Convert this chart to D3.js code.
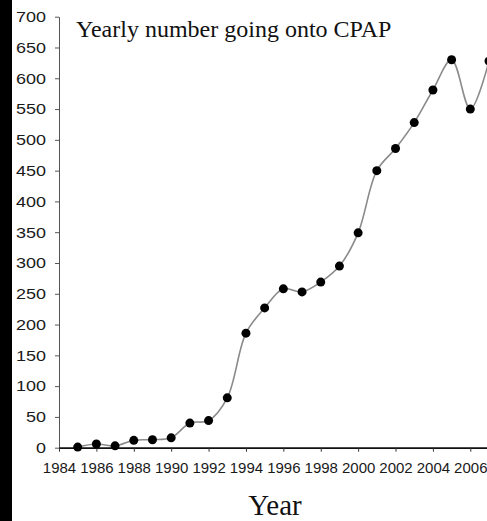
<!DOCTYPE html>
<html>
<head>
<meta charset="utf-8">
<script src="https://cdn.jsdelivr.net/npm/d3@7"></script>
<style>
  html, body { margin: 0; padding: 0; background: #fff; overflow: hidden; }
  svg { display: block; }
</style>
</head>
<body>
<div id="cpap_chart"></div>
<script>
// yearly number of patients going onto CPAP
const years = [1985, 1986, 1987, 1988, 1989, 1990, 1991, 1992, 1993, 1994, 1995, 1996,
               1997, 1998, 1999, 2000, 2001, 2002, 2003, 2004, 2005, 2006, 2007];
const counts = [1, 6, 3, 12, 13, 16, 40, 44, 81, 186, 227, 258,
                253, 269, 295, 349, 450, 486, 528, 581, 630, 550, 628];
const yTicks = [0, 50, 100, 150, 200, 250, 300, 350, 400, 450, 500, 550, 600, 650, 700];
const xTicks = [1984, 1986, 1988, 1990, 1992, 1994, 1996, 1998, 2000, 2002, 2004, 2006];
const TITLE = "Yearly number going onto CPAP";
const X_LABEL = "Year";

function cpap_linechart() {
    const W = 487, H = 521;

    const svg = d3.select("#cpap_chart")
        .append("svg")
            .attr("width", W)
            .attr("height", H);

    svg.append("rect")
        .attr("width", W).attr("height", H)
        .attr("fill", "#fff");

    // dark strip down the left edge of the scan
    svg.append("rect")
        .attr("x", 0).attr("y", 0)
        .attr("width", 12).attr("height", H)
        .attr("fill", "#000");

    const x = d3.scaleLinear()
        .domain([1984, 2007])
        .range([59, 489]);

    const y = d3.scaleLinear()
        .domain([0, 700])
        .range([447.7, 16.7]);

    // Y axis
    const yAxis = svg.append("g")
        .attr("transform", `translate(${x(1984)},0)`)
        .call(d3.axisLeft(y).tickValues(yTicks).tickSize(4).tickPadding(9).tickSizeOuter(0));
    yAxis.select(".domain").attr("stroke", "#555").attr("stroke-width", 1);
    yAxis.selectAll(".tick line").attr("stroke", "#555");
    yAxis.selectAll("text")
        .style("font-family", "'Liberation Sans', Arial, sans-serif")
        .style("font-size", "15px")
        .attr("fill", "#1a1a1a")
        .attr("textLength", d => String(d).length * 10)
        .attr("lengthAdjust", "spacingAndGlyphs");

    // X axis
    const xAxis = svg.append("g")
        .attr("transform", `translate(0,${y(0)})`)
        .call(d3.axisBottom(x).tickValues(xTicks).tickFormat(d3.format("d"))
            .tickSize(4).tickPadding(11).tickSizeOuter(0));
    xAxis.select(".domain").attr("stroke", "#111").attr("stroke-width", 1.8);
    xAxis.selectAll(".tick line").attr("stroke", "#333");
    xAxis.selectAll("text")
        .style("font-family", "'Liberation Sans', Arial, sans-serif")
        .style("font-size", "15px")
        .attr("fill", "#1a1a1a");

    // smoothed line
    const line = d3.line()
        .x((d, i) => x(years[i]))
        .y(d => y(d))
        .curve(d3.curveCatmullRom.alpha(0.5));

    svg.append("path")
        .datum(counts)
        .attr("fill", "none")
        .attr("stroke", "#8a8a8a")
        .attr("stroke-width", 1.6)
        .attr("d", line);

    svg.append("g")
        .selectAll("circle")
        .data(counts)
        .join("circle")
            .attr("cx", (d, i) => x(years[i]))
            .attr("cy", d => y(d))
            .attr("r", 4.5)
            .attr("fill", "#000");

    // title & axis label
    svg.append("text")
        .attr("x", 76)
        .attr("y", 37)
        .style("font-family", "'Liberation Serif', 'Times New Roman', serif")
        .style("font-size", "24px")
        .attr("fill", "#111")
        .text(TITLE);

    svg.append("text")
        .attr("x", 275)
        .attr("y", 515)
        .attr("text-anchor", "middle")
        .style("font-family", "'Liberation Serif', 'Times New Roman', serif")
        .style("font-size", "29px")
        .attr("fill", "#111")
        .text(X_LABEL);
}

cpap_linechart();
</script>
</body>
</html>
